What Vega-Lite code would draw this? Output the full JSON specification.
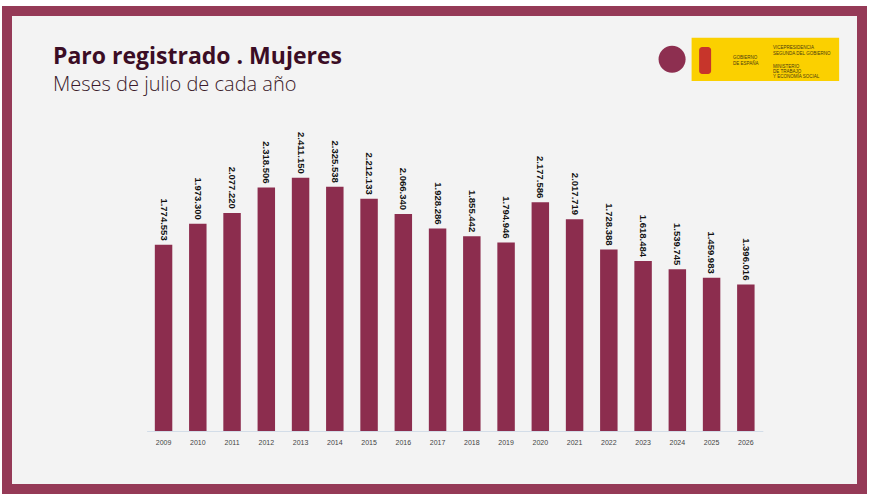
{
  "$schema": "https://vega.github.io/schema/vega-lite/v6.json",
  "description": "Paro registrado de mujeres, meses de julio 2009-2026",
  "width": 855,
  "height": 478,
  "autosize": {"type": "none"},
  "padding": {"left": 7, "top": 11, "right": 19, "bottom": 10},
  "background": "#ffffff",
  "view": {"fill": "#f3f3f3", "stroke": "#953a57", "strokeWidth": 10},
  "config": {
    "locale": {"number": {"decimal": ",", "thousands": ".", "grouping": [3], "currency": ["", " €"]}}
  },
  "title": {
    "text": "Paro registrado . Mujeres",
    "subtitle": "Meses de julio de cada año",
    "anchor": "start",
    "frame": "group",
    "orient": "top",
    "offset": -84,
    "dx": 46,
    "font": "Open Sans",
    "fontSize": 23,
    "fontWeight": 700,
    "color": "#3b0d25",
    "subtitleFont": "Open Sans",
    "subtitleFontSize": 20,
    "subtitleFontWeight": 300,
    "subtitleColor": "#3b1a2a",
    "subtitlePadding": 6
  },
  "data": {
    "values": [
      {"year": "2009", "paro": 1774553},
      {"year": "2010", "paro": 1973300},
      {"year": "2011", "paro": 2077220},
      {"year": "2012", "paro": 2318506},
      {"year": "2013", "paro": 2411150},
      {"year": "2014", "paro": 2325538},
      {"year": "2015", "paro": 2212133},
      {"year": "2016", "paro": 2066340},
      {"year": "2017", "paro": 1928286},
      {"year": "2018", "paro": 1855442},
      {"year": "2019", "paro": 1794946},
      {"year": "2020", "paro": 2177586},
      {"year": "2021", "paro": 2017719},
      {"year": "2022", "paro": 1728388},
      {"year": "2023", "paro": 1618484},
      {"year": "2024", "paro": 1539745},
      {"year": "2025", "paro": 1459983},
      {"year": "2026", "paro": 1396016}
    ]
  },
  "resolve": {"scale": {"x": "independent"}, "axis": {"x": "independent"}},
  "layer": [
    {
      "mark": {"type": "bar", "color": "#8c2d4e"},
      "encoding": {
        "x": {
          "field": "year",
          "type": "ordinal",
          "scale": {"range": [139.6, 755.8], "paddingInner": 0.49, "paddingOuter": 0.24},
          "axis": {
            "title": null,
            "orient": "bottom",
            "offset": -58,
            "labelAngle": 0,
            "ticks": false,
            "tickSize": 0,
            "labelPadding": 7,
            "labelFont": "Liberation Sans",
            "labelFontSize": 7,
            "labelColor": "#444444",
            "domainColor": "#d3dde8",
            "domainWidth": 1
          }
        },
        "y": {
          "field": "paro",
          "type": "quantitative",
          "scale": {"domain": [0, 4000000], "range": [420, 0]},
          "axis": null
        },
        "y2": {"datum": 0}
      }
    },
    {
      "mark": {
        "type": "text",
        "angle": 90,
        "align": "right",
        "baseline": "middle",
        "yOffset": -4,
        "font": "Liberation Sans",
        "fontSize": 9.5,
        "fontWeight": "bold",
        "color": "#111111"
      },
      "encoding": {
        "x": {
          "field": "year",
          "type": "ordinal",
          "scale": {"range": [139.6, 755.8], "paddingInner": 0.49, "paddingOuter": 0.24},
          "axis": null
        },
        "y": {
          "field": "paro",
          "type": "quantitative",
          "scale": {"domain": [0, 4000000], "range": [420, 0]},
          "axis": null
        },
        "text": {"field": "paro", "type": "quantitative", "format": ",d"}
      }
    },
    {
      "data": {"values": [{}]},
      "mark": {"type": "rect", "color": "#fbd000"},
      "encoding": {
        "x": {"datum": 2024.42, "type": "quantitative", "scale": {"domain": [2008.5, 2026.5], "range": [139.6, 755.8]}, "axis": null},
        "x2": {"datum": 2028.73},
        "y": {"datum": 3746000, "type": "quantitative", "scale": {"domain": [0, 4000000], "range": [420, 0]}, "axis": null},
        "y2": {"datum": 3333000}
      }
    },
    {
      "data": {"values": [{}]},
      "mark": {"type": "rect", "color": "#c7352b", "cornerRadius": 3},
      "encoding": {
        "x": {"datum": 2024.64, "type": "quantitative", "scale": {"domain": [2008.5, 2026.5], "range": [139.6, 755.8]}, "axis": null},
        "x2": {"datum": 2024.99},
        "y": {"datum": 3657000, "type": "quantitative", "scale": {"domain": [0, 4000000], "range": [420, 0]}, "axis": null},
        "y2": {"datum": 3400000}
      }
    },
    {
      "data": {"values": [{}]},
      "mark": {"type": "point", "shape": "circle", "filled": true, "size": 729, "opacity": 1, "color": "#8d2f50"},
      "encoding": {
        "x": {"datum": 2023.85, "type": "quantitative", "scale": {"domain": [2008.5, 2026.5], "range": [139.6, 755.8]}, "axis": null},
        "y": {"datum": 3540000, "type": "quantitative", "scale": {"domain": [0, 4000000], "range": [420, 0]}, "axis": null}
      }
    },
    {
      "data": {"values": [{}]},
      "mark": {"type": "text", "align": "left", "baseline": "middle", "font": "Liberation Sans", "fontSize": 4.5, "lineHeight": 6, "color": "#4a3a10", "text": ["GOBIERNO", "DE ESPAÑA"]},
      "encoding": {
        "x": {"datum": 2025.63, "type": "quantitative", "scale": {"domain": [2008.5, 2026.5], "range": [139.6, 755.8]}, "axis": null},
        "y": {"datum": 3552000, "type": "quantitative", "scale": {"domain": [0, 4000000], "range": [420, 0]}, "axis": null}
      }
    },
    {
      "data": {"values": [{}]},
      "mark": {"type": "text", "align": "left", "baseline": "middle", "font": "Liberation Sans", "fontSize": 4.5, "lineHeight": 6, "color": "#4a3a10", "text": ["VICEPRESIDENCIA", "SEGUNDA DEL GOBIERNO"]},
      "encoding": {
        "x": {"datum": 2026.8, "type": "quantitative", "scale": {"domain": [2008.5, 2026.5], "range": [139.6, 755.8]}, "axis": null},
        "y": {"datum": 3648000, "type": "quantitative", "scale": {"domain": [0, 4000000], "range": [420, 0]}, "axis": null}
      }
    },
    {
      "data": {"values": [{}]},
      "mark": {"type": "text", "align": "left", "baseline": "middle", "font": "Liberation Sans", "fontSize": 4.5, "lineHeight": 5, "color": "#4a3a10", "text": ["MINISTERIO", "DE TRABAJO", "Y ECONOMÍA SOCIAL"]},
      "encoding": {
        "x": {"datum": 2026.8, "type": "quantitative", "scale": {"domain": [2008.5, 2026.5], "range": [139.6, 755.8]}, "axis": null},
        "y": {"datum": 3467000, "type": "quantitative", "scale": {"domain": [0, 4000000], "range": [420, 0]}, "axis": null}
      }
    }
  ]
}
